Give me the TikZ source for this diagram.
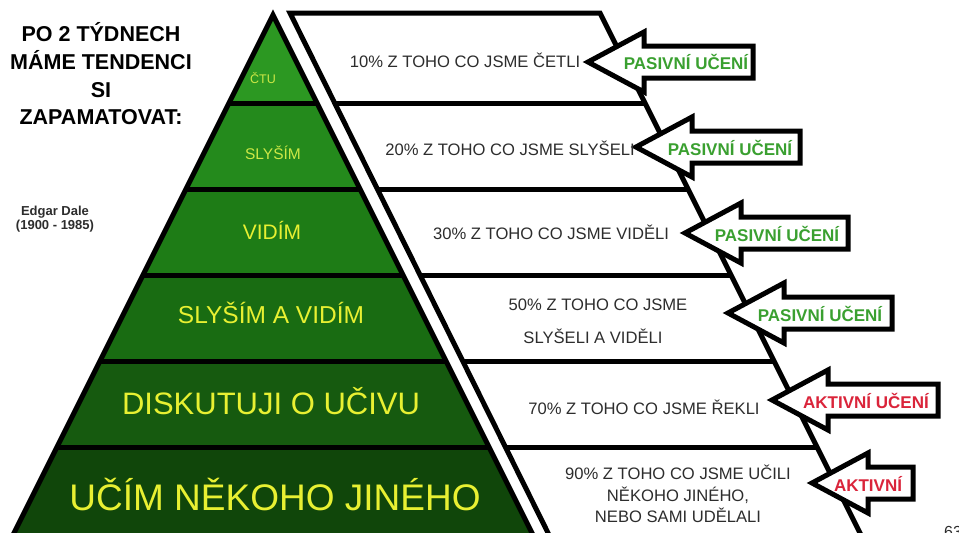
\documentclass[tikz,border=0pt]{standalone}
\usepackage{fontspec}
\setmainfont{Liberation Sans}
\definecolor{gA}{RGB}{44,152,34}
\definecolor{gB}{RGB}{36,138,28}
\definecolor{gC}{RGB}{30,124,22}
\definecolor{gD}{RGB}{25,108,18}
\definecolor{gE}{RGB}{22,90,15}
\definecolor{gF}{RGB}{16,70,10}
\definecolor{ylw}{RGB}{232,240,50}
\definecolor{ylwl}{RGB}{205,232,70}
\definecolor{txtgray}{RGB}{45,45,45}
\definecolor{pasgreen}{RGB}{58,160,48}
\definecolor{aktred}{RGB}{218,36,58}
\tikzset{
  blk/.style={draw=black,line width=5pt,line join=miter},
  sep/.style={draw=black,line width=5pt},
  pyrlbl/.style={text=ylw,inner sep=0pt},
  boxtxt/.style={text=txtgray,inner sep=0pt,font=\fontsize{16.6}{20}\selectfont},
  arrtxt/.style={inner sep=0pt,font=\bfseries\fontsize{17}{20}\selectfont},
}
\newcommand\learnarrow[3]{%
  \filldraw[fill=white,draw=black,line width=5pt,line join=miter]
    (#1,#2) -- ({#1+56},{#2-30}) -- ({#1+56},{#2-16}) -- (#3,{#2-16})
    -- (#3,{#2+16}) -- ({#1+56},{#2+16}) -- ({#1+56},{#2+30}) -- cycle;}
\begin{document}
\begin{tikzpicture}[x=1pt,y=-1pt]
\useasboundingbox[fill=white] (0,0) rectangle (959,533);
% pyramid layers
\fill[gA] (273,15) -- (317,103) -- (229,103) -- cycle;
\fill[gB] (229,103) -- (317,103) -- (360,189) -- (186,189) -- cycle;
\fill[gC] (186,189) -- (360,189) -- (403,275) -- (143,275) -- cycle;
\fill[gD] (143,275) -- (403,275) -- (446,361) -- (100,361) -- cycle;
\fill[gE] (100,361) -- (446,361) -- (489,447) -- (57,447) -- cycle;
\fill[gF] (57,447) -- (489,447) -- (540,549) -- (6,549) -- cycle;
\foreach \yy/\xl/\xr in {103/229/317,189/186/360,275/143/403,361/100/446,447/57/489}
  \draw[sep] (\xl,\yy) -- (\xr,\yy);
\draw[blk] (6,549) -- (273,15) -- (540,549);
% white boxes
\draw[blk] (556,549) -- (290,13) -- (600,13) -- (868,549);
\foreach \yy/\xl/\xr in {103/335/645,189/378/688,275/421/731,361/464/774,447/507/817}
  \draw[sep] (\xl,\yy) -- (\xr,\yy);
% arrows
\learnarrow{588}{62}{753}
\learnarrow{636}{147}{800}
\learnarrow{685}{233}{848}
\learnarrow{728}{313}{892}
\learnarrow{772}{400}{938}
\learnarrow{812}{483}{913}
% left heading
\node[inner sep=0pt,align=center,font=\bfseries\fontsize{21.5}{27.7}\selectfont] (head) at (101,74)
  {PO 2 TÝDNECH\\MÁME TENDENCI\\SI\\ZAPAMATOVAT:};
\node[inner sep=0pt,align=center,text=txtgray,font=\bfseries\fontsize{13}{14.5}\selectfont] (dale) at (55,219)
  {Edgar Dale\\(1900 - 1985)};
% pyramid labels
\node[pyrlbl,text=ylwl,font=\fontsize{12.5}{14}\selectfont] (l1) at (263,78) {ČTU};
\node[pyrlbl,text=ylwl,font=\fontsize{15.5}{18}\selectfont] (l2) at (273,153) {SLYŠÍM};
\node[pyrlbl,font=\fontsize{21}{24}\selectfont] (l3) at (272,230) {VIDÍM};
\node[pyrlbl,font=\fontsize{24.5}{28}\selectfont] (l4) at (271,313) {SLYŠÍM A VIDÍM};
\node[pyrlbl,font=\fontsize{31}{34}\selectfont] (l5) at (271,401) {DISKUTUJI O UČIVU};
\node[pyrlbl,font=\fontsize{37}{40}\selectfont] (l6) at (275,495) {UČÍM NĚKOHO JINÉHO};
% box texts
\node[boxtxt] (t1) at (465,60) {10\% Z TOHO CO JSME ČETLI};
\node[boxtxt] (t2) at (510,148) {20\% Z TOHO CO JSME SLYŠELI};
\node[boxtxt] (t3) at (551,232) {30\% Z TOHO CO JSME VIDĚLI};
\node[boxtxt] (t4a) at (598,305) {50\% Z TOHO CO JSME};
\node[boxtxt] (t4b) at (593,336) {SLYŠELI A VIDĚLI};
\node[boxtxt] (t5) at (644,407) {70\% Z TOHO CO JSME ŘEKLI};
\node[boxtxt,align=center,font=\fontsize{16.6}{21.5}\selectfont] (t6) at (678,494)
  {90\% Z TOHO CO JSME UČILI\\NĚKOHO JINÉHO,\\NEBO SAMI UDĚLALI};
% arrow labels
\node[arrtxt,text=pasgreen] (a1) at (686,62) {PASIVNÍ UČENÍ};
\node[arrtxt,text=pasgreen] (a2) at (730,148) {PASIVNÍ UČENÍ};
\node[arrtxt,text=pasgreen] (a3) at (777,234) {PASIVNÍ UČENÍ};
\node[arrtxt,text=pasgreen] (a4) at (820,314) {PASIVNÍ UČENÍ};
\node[arrtxt,text=aktred] (a5) at (866,401) {AKTIVNÍ UČENÍ};
\node[arrtxt,text=aktred] (a6) at (868,484) {AKTIVNÍ};
% page number (cut off at the page edge, as in the reference)
\node[anchor=west,inner sep=0pt,text=txtgray,font=\fontsize{16}{18}\selectfont] (pg) at (944,532) {63};
\end{tikzpicture}
\end{document}
